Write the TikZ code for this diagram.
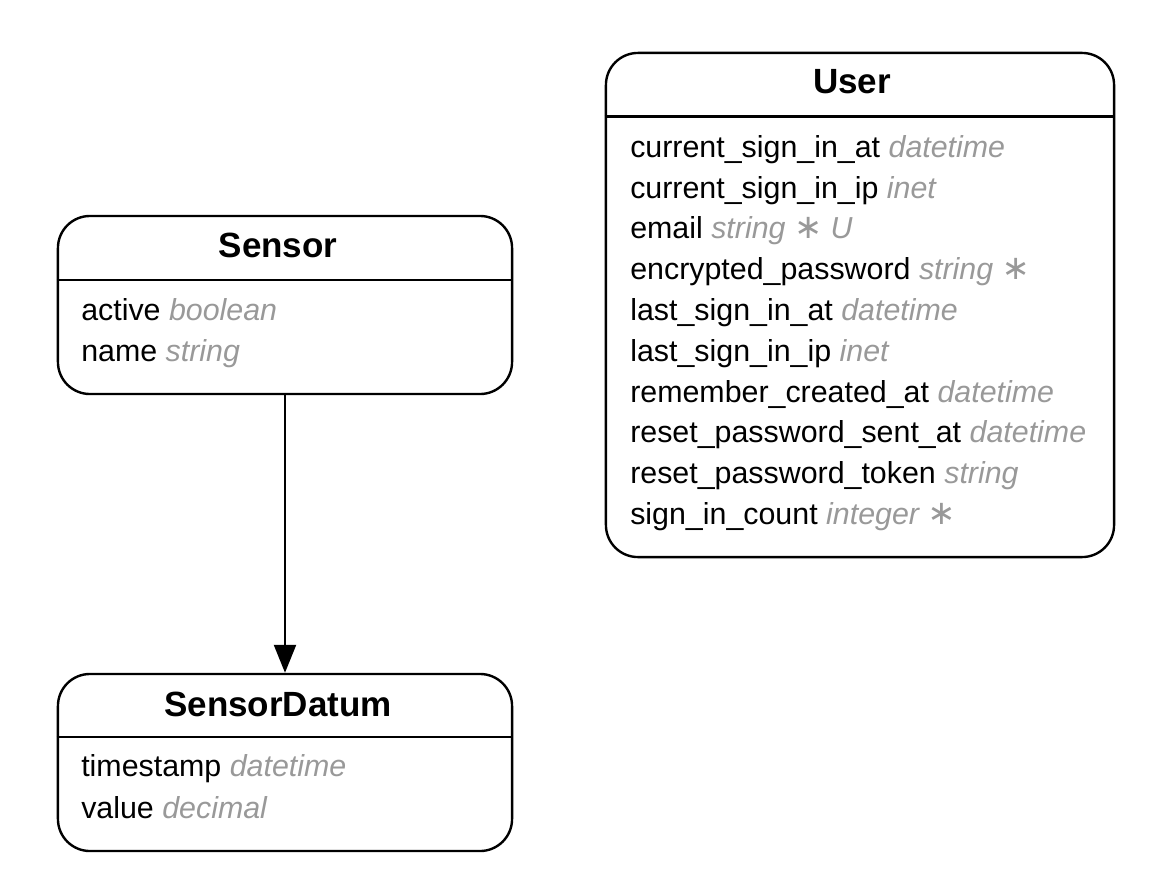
\documentclass[tikz,border=0pt]{standalone}
\usepackage{fontspec}
\setmainfont{Liberation Sans}
\newfontfamily\starfont{DejaVu Sans}
\usetikzlibrary{positioning}
\usetikzlibrary{arrows.meta}

\definecolor{typegray}{HTML}{999999}
\newcommand{\attrtext}[2]{#1 {\itshape\color{typegray}#2}}
\newcommand{\req}{{\starfont\itshape\fontsize{24}{26}\selectfont ∗}}

\tikzset{
  entity/.style={draw, line width=1.7pt, rectangle, rounded corners=0.8cm, inner sep=0pt},
  sep/.style={line width=1.7pt},
  title/.style={font=\fontsize{24.9}{30}\selectfont\bfseries, anchor=base, inner sep=0pt},
  attr/.style={font=\fontsize{21.6}{26}\selectfont, anchor=base west, inner sep=0pt},
}

\begin{document}
\begin{tikzpicture}[x=0.025cm,y=-0.025cm]
\useasboundingbox (0,0) rectangle (1152,888);

% entities
\node[entity, minimum width=12.7cm, minimum height=12.6cm] (user) at (860,305) {};
\node[entity, minimum width=11.35cm, minimum height=4.45cm] (sensor) at (285,305) {};
\node[entity, minimum width=11.35cm, minimum height=4.425cm] (datum) at (285,762.5) {};

\draw[sep] (user.west |- 0,116.5) -- (user.east |- 0,116.5);
\draw[sep] (sensor.west |- 0,280) -- (sensor.east |- 0,280);
\draw[sep] (datum.west |- 0,737) -- (datum.east |- 0,737);

% titles
\node[title] (user-t) at (852,93) {User};
\node[title] (sensor-t) at (278,257.5) {Sensor};
\node[title] (datum-t) at (278,716) {SensorDatum};

% attributes
\foreach \n/\t [count=\i from 0] in {current\_sign\_in\_at/datetime, current\_sign\_in\_ip/inet,
  email/string \req{} U, encrypted\_password/string \req, last\_sign\_in\_at/datetime,
  last\_sign\_in\_ip/inet, remember\_created\_at/datetime, reset\_password\_sent\_at/datetime,
  reset\_password\_token/string, sign\_in\_count/integer \req}
  \node[attr] (user-f\i) at (630,157.3+40.8*\i) {\attrtext{\n}{\t}};

\node[attr] (sensor-f0) at (81,320.7) {\attrtext{active}{boolean}};
\node[attr] (sensor-f1) at (81,361.7) {\attrtext{name}{string}};

\node[attr] (datum-f0) at (81,776.7) {\attrtext{timestamp}{datetime}};
\node[attr] (datum-f1) at (81,818.3) {\attrtext{value}{decimal}};

% relation
\draw[line width=1.7pt, -{Triangle[length=0.7cm,width=0.55cm]}] (sensor.south) -- (datum.north);

\end{tikzpicture}
\end{document}
